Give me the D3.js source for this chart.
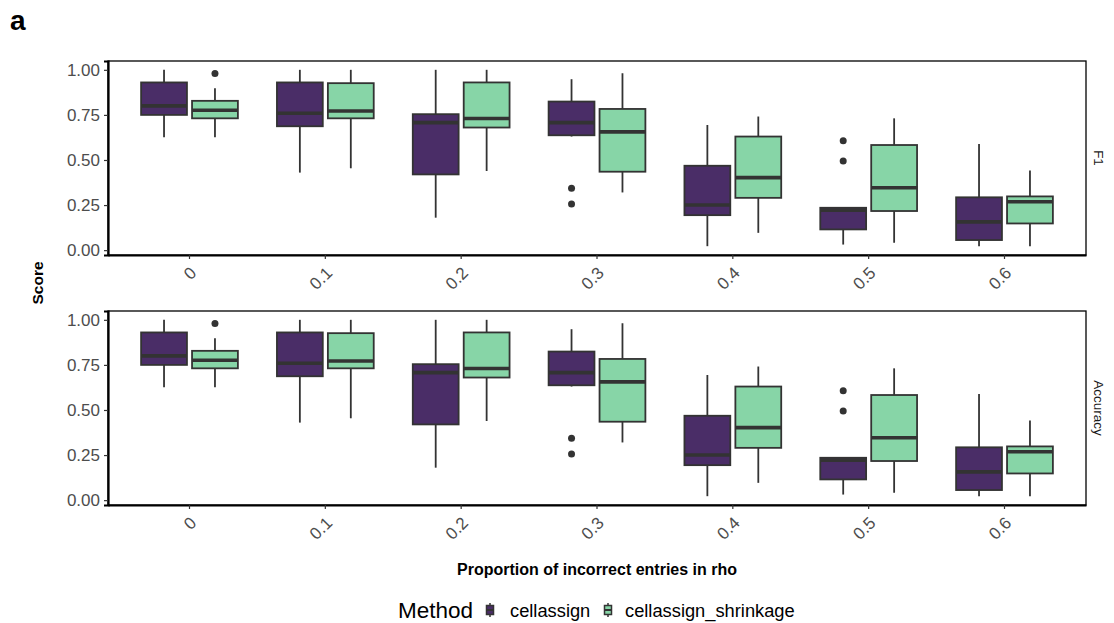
<!DOCTYPE html>
<html>
<head>
<meta charset="utf-8">
<script src="https://cdn.jsdelivr.net/npm/d3@7"></script>
<style>
  body { margin: 0; background: #fff; }
  text { font-family: "Liberation Sans", Arial, sans-serif; }
</style>
</head>
<body>
<div id="chart"></div>
<script>
var categories = ["0", "0.1", "0.2", "0.3", "0.4", "0.5", "0.6"];
var methods = ["cellassign", "cellassign_shrinkage"];
var panels = ["F1", "Accuracy"];
var yTicks = [0, 0.25, 0.5, 0.75, 1];

// box stats (the F1 and Accuracy panels look the same)
var caLow  = [0.626, 0.43, 0.18, 0.63, 0.022, 0.031, 0.022];
var caQ1   = [0.75, 0.687, 0.42, 0.637, 0.194, 0.115, 0.056];
var caMed  = [0.80, 0.759, 0.707, 0.707, 0.25, 0.222, 0.157];
var caQ3   = [0.93, 0.93, 0.754, 0.824, 0.468, 0.235, 0.293];
var caHigh = [1.0, 1.0, 1.0, 0.948, 0.694, 0.235, 0.589];
var caOut  = [[], [], [], [0.343, 0.256], [], [0.607, 0.494], []];

var shLow  = [0.626, 0.454, 0.439, 0.32, 0.096, 0.041, 0.022];
var shQ1   = [0.731, 0.731, 0.68, 0.435, 0.29, 0.217, 0.148];
var shMed  = [0.776, 0.772, 0.73, 0.656, 0.402, 0.346, 0.268];
var shQ3   = [0.828, 0.926, 0.93, 0.783, 0.63, 0.583, 0.298];
var shHigh = [0.898, 1.0, 1.0, 0.981, 0.741, 0.731, 0.441];
var shOut  = [[0.98], [], [], [], [], [], []];

//Config
var W = 1114, H = 623;
var fillColors = {cellassign: "#4A2D67", cellassign_shrinkage: "#87D5A7"};
var lineColor = "#333333";
var panelLeft = 108, panelRight = 1086;
var panelTops = [61, 311], panelH = 194;

function buildBoxes() {
  var rows = [];
  categories.forEach(function(c, i) {
    rows.push({cat: c, method: methods[0], low: caLow[i], q1: caQ1[i], med: caMed[i], q3: caQ3[i], high: caHigh[i], out: caOut[i]});
    rows.push({cat: c, method: methods[1], low: shLow[i], q1: shQ1[i], med: shMed[i], q3: shQ3[i], high: shHigh[i], out: shOut[i]});
  });
  return rows;
}
var boxes = buildBoxes();

var allVals = [];
boxes.forEach(function(b) { allVals.push(b.low, b.high); allVals = allVals.concat(b.out); });
var vmin = d3.min(allVals), vmax = d3.max(allVals), pad = (vmax - vmin) * 0.05;

var svg = d3.select("#chart").append("svg")
  .attr("width", W).attr("height", H)
  .style("background", "#fff");

var x = d3.scaleBand().domain(categories)
  .range([panelLeft, panelRight]).paddingInner(0).paddingOuter(0.1);
var step = x.step();
var xm = d3.scaleBand().domain(methods).range([-0.375 * step, 0.375 * step]);
var boxW = xm.bandwidth() * 0.9;

panels.forEach(function(p, pi) {
  var top = panelTops[pi];
  var y = d3.scaleLinear().domain([vmin - pad, vmax + pad]).range([top + panelH, top]);
  var g = svg.append("g").attr("class", "panel");

  g.append("rect")
    .attr("x", panelLeft).attr("y", top)
    .attr("width", panelRight - panelLeft).attr("height", panelH)
    .attr("fill", "#fff").attr("stroke", "#000").attr("stroke-width", 1.3);

  // y axis
  var yAxis = g.append("g").attr("transform", "translate(" + panelLeft + ",0)")
    .call(d3.axisLeft(y).tickValues(yTicks).tickFormat(d3.format(".2f")).tickSize(4).tickPadding(4));
  yAxis.select(".domain").attr("stroke", "#000").attr("stroke-width", 2.2);
  yAxis.selectAll(".tick line").attr("stroke", lineColor).attr("stroke-width", 1.2);
  yAxis.selectAll(".tick text").attr("fill", "#4D4D4D").style("font-size", "17px")
    .style("font-family", "Liberation Sans, Arial, sans-serif");

  // x axis
  var xAxis = g.append("g").attr("transform", "translate(0," + (top + panelH) + ")")
    .call(d3.axisBottom(x).tickSize(4).tickSizeOuter(0));
  xAxis.select(".domain").attr("stroke", "#000").attr("stroke-width", 2.2);
  xAxis.selectAll(".tick line").attr("stroke", lineColor).attr("stroke-width", 1.2);
  xAxis.selectAll(".tick text")
    .attr("fill", "#4D4D4D").style("font-size", "17px")
    .style("font-family", "Liberation Sans, Arial, sans-serif")
    .attr("text-anchor", "end")
    .attr("y", 0).attr("dy", 0)
    .attr("transform", "translate(8,19) rotate(-45)");

  // boxes
  var items = g.selectAll(".box").data(boxes).enter().append("g")
    .attr("class", "box")
    .attr("transform", function(d) {
      return "translate(" + (x(d.cat) + step / 2 + xm(d.method) + xm.bandwidth() / 2) + ",0)";
    });

  items.append("line")
    .attr("y1", function(d) { return y(d.high); }).attr("y2", function(d) { return y(d.q3); })
    .attr("stroke", lineColor).attr("stroke-width", 1.8);
  items.append("line")
    .attr("y1", function(d) { return y(d.q1); }).attr("y2", function(d) { return y(d.low); })
    .attr("stroke", lineColor).attr("stroke-width", 1.8);
  items.append("rect")
    .attr("x", -boxW / 2).attr("width", boxW)
    .attr("y", function(d) { return y(d.q3); })
    .attr("height", function(d) { return y(d.q1) - y(d.q3); })
    .attr("fill", function(d) { return fillColors[d.method]; })
    .attr("stroke", lineColor).attr("stroke-width", 1.8);
  items.append("line")
    .attr("x1", -boxW / 2).attr("x2", boxW / 2)
    .attr("y1", function(d) { return y(d.med); }).attr("y2", function(d) { return y(d.med); })
    .attr("stroke", lineColor).attr("stroke-width", 3.6);
  items.selectAll(".out").data(function(d) { return d.out; }).enter().append("circle")
    .attr("class", "out")
    .attr("cy", function(v) { return y(v); }).attr("r", 3.5)
    .attr("fill", lineColor);

  // strip label
  svg.append("text")
    .attr("transform", "translate(1099," + (top + panelH / 2) + ") rotate(90)")
    .attr("text-anchor", "middle").attr("dy", "0.35em")
    .attr("fill", "#1A1A1A").style("font-size", "13.5px")
    .text(p);
});

// titles
svg.append("text")
  .attr("transform", "translate(43,283) rotate(-90)")
  .attr("text-anchor", "middle")
  .style("font-size", "15.5px").style("font-weight", "bold")
  .text("Score");

svg.append("text")
  .attr("x", (panelLeft + panelRight) / 2).attr("y", 575)
  .attr("text-anchor", "middle")
  .style("font-size", "16px").style("font-weight", "bold")
  .text("Proportion of incorrect entries in rho");

svg.append("text")
  .attr("x", 10).attr("y", 30)
  .style("font-size", "28px").style("font-weight", "bold")
  .text("a");

// legend
var legend = svg.append("g").attr("transform", "translate(0,610)");
legend.append("text").attr("x", 398).attr("y", 8)
  .style("font-size", "22.5px").attr("fill", "#000").text("Method");

var keyX = [490, 608], labelX = [510, 625];
var keys = legend.selectAll(".key").data(methods).enter().append("g")
  .attr("class", "key")
  .attr("transform", function(d, i) { return "translate(" + keyX[i] + ",0)"; });
keys.append("line").attr("y1", -7).attr("y2", 7)
  .attr("stroke", lineColor).attr("stroke-width", 1.5);
keys.append("rect").attr("x", -3.5).attr("y", -4.5).attr("width", 7).attr("height", 9)
  .attr("fill", function(d) { return fillColors[d]; })
  .attr("stroke", lineColor).attr("stroke-width", 1.5);
keys.append("line").attr("x1", -3.5).attr("x2", 3.5).attr("y1", 0).attr("y2", 0)
  .attr("stroke", lineColor).attr("stroke-width", 2);
legend.selectAll(".lab").data(methods).enter().append("text")
  .attr("class", "lab")
  .attr("x", function(d, i) { return labelX[i]; }).attr("y", 6.5)
  .style("font-size", "18.3px").attr("fill", "#000")
  .text(function(d) { return d; });
</script>
</body>
</html>
